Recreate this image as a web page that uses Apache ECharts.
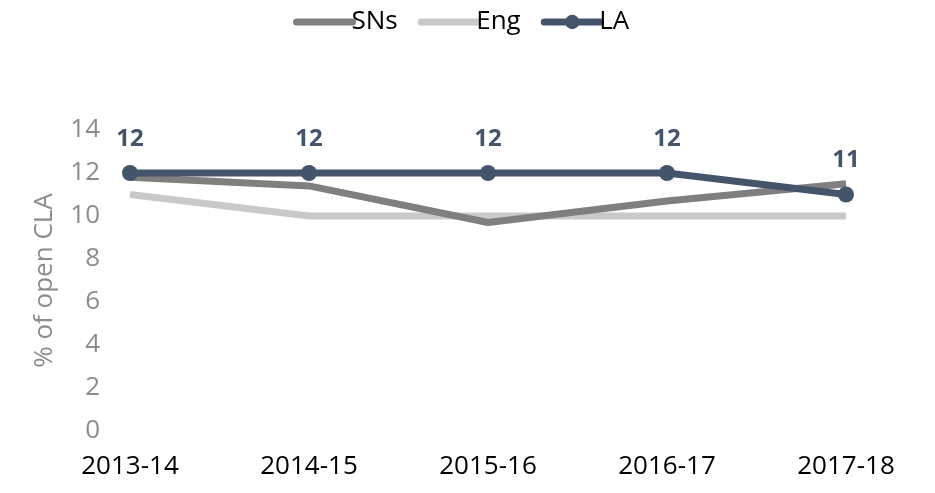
<!DOCTYPE html>
<html>
<head>
<meta charset="utf-8">
<script src="https://cdn.jsdelivr.net/npm/echarts@6/dist/echarts.min.js"></script>
<style>
  html, body { margin: 0; padding: 0; background: #ffffff; }
  #chart { width: 935px; height: 493px; }
</style>
</head>
<body>
<div id="chart"></div>
<script>
// School years along the horizontal axis
const years = ['2013-14', '2014-15', '2015-16', '2016-17', '2017-18'];

// Share of open CLA, per group
const snsValues = [11.8, 11.4, 9.7, 10.7, 11.5];
const engValues = [11.0, 10.0, 10.0, 10.0, 10.0];
const laValues = [12, 12, 12, 12, 11];

// Value axis ticks
const yMin = 0;
const yMax = 14;
const yStep = 2;

const FONT = '"Open Sans", "Noto Sans", sans-serif';

const chart = echarts.init(document.getElementById('chart'));
chart.setOption({
  backgroundColor: '#ffffff',
  animation: false,
  legend: {
    top: 4,
    left: 288,
    itemWidth: 56,
    itemHeight: 18,
    itemGap: 20,
    lineStyle: { width: 7, cap: 'round' },
    textStyle: { fontFamily: FONT, fontSize: 26, color: '#000000', padding: [0, 0, 0, -6] },
    data: [
      { name: 'SNs', itemStyle: { opacity: 0 } },
      { name: 'Eng', itemStyle: { opacity: 0 } },
      { name: 'LA' }
    ]
  },
  grid: { left: 130, right: 89, top: 130, bottom: 62, containLabel: false },
  xAxis: {
    type: 'category',
    data: years,
    boundaryGap: false,
    axisLine: { show: false },
    axisTick: { show: false },
    axisLabel: { color: '#000000', fontFamily: FONT, fontSize: 26, margin: 23 }
  },
  yAxis: {
    type: 'value',
    min: yMin,
    max: yMax,
    interval: yStep,
    name: '% of open CLA',
    nameLocation: 'middle',
    nameGap: 72,
    nameRotate: 90,
    nameTextStyle: { color: '#8c8c8c', fontFamily: FONT, fontSize: 26 },
    axisLine: { show: false },
    axisTick: { show: false },
    splitLine: { show: false },
    axisLabel: { color: '#8c8c8c', fontFamily: FONT, fontSize: 26, margin: 30 }
  },
  series: [
    {
      name: 'SNs',
      type: 'line',
      data: snsValues,
      symbol: 'none',
      lineStyle: { color: '#7f7f7f', width: 7, cap: 'butt' },
      itemStyle: { color: '#7f7f7f' },
      z: 2
    },
    {
      name: 'Eng',
      type: 'line',
      data: engValues,
      symbol: 'none',
      lineStyle: { color: '#c9c9c9', width: 7, cap: 'butt' },
      itemStyle: { color: '#c9c9c9' },
      z: 1
    },
    {
      name: 'LA',
      type: 'line',
      data: laValues,
      symbol: 'circle',
      symbolSize: 16,
      lineStyle: { color: '#44546a', width: 7 },
      itemStyle: { color: '#44546a' },
      label: {
        show: true,
        position: 'top',
        distance: 14,
        color: '#44546a',
        fontFamily: FONT,
        fontWeight: 'bold',
        fontSize: 24
      },
      z: 3
    }
  ]
});
</script>
</body>
</html>
